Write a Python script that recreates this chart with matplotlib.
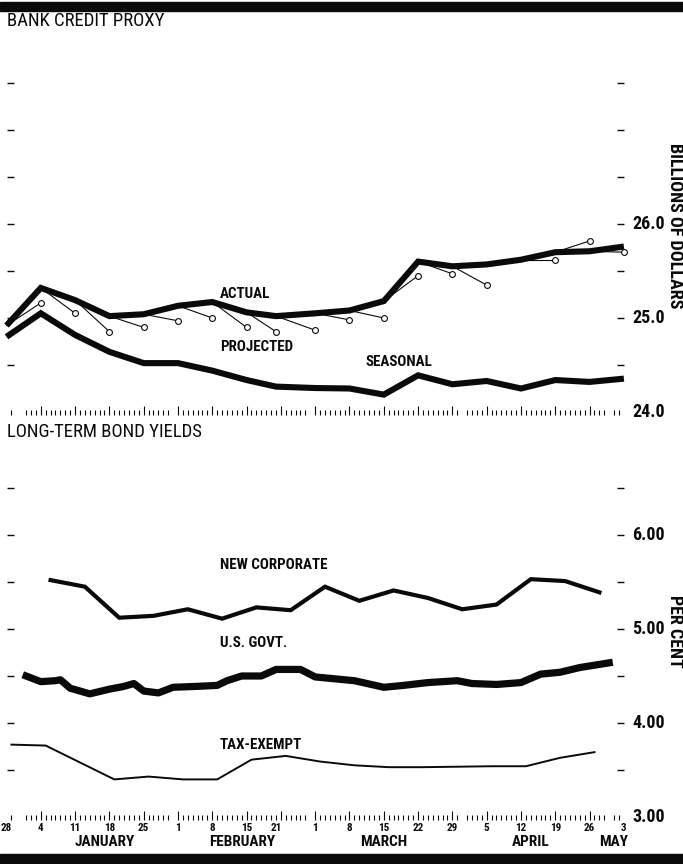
import matplotlib
matplotlib.use("Agg")
import matplotlib.pyplot as plt
from matplotlib import font_manager as fm
from matplotlib.patches import Rectangle
import numpy as np

# ---------------- data ----------------
BASE = np.datetime64("1966-12-28")

week_dates = ["1966-12-28", "1967-01-04", "1967-01-11", "1967-01-18", "1967-01-25",
              "1967-02-01", "1967-02-08", "1967-02-15", "1967-02-21", "1967-03-01",
              "1967-03-08", "1967-03-15", "1967-03-22", "1967-03-29", "1967-04-05",
              "1967-04-12", "1967-04-19", "1967-04-26", "1967-05-03"]
actual = [24.92, 25.32, 25.19, 25.02, 25.04, 25.13, 25.17, 25.06, 25.02, 25.05,
          25.08, 25.18, 25.60, 25.55, 25.57, 25.62, 25.70, 25.71, 25.76]
projected = [None, 25.16, 25.05, 24.855, 24.90, 24.97, 25.00, 24.90, 24.855, 24.87,
             24.98, 25.00, 25.45, 25.47, 25.35, None, 25.62, 25.82, 25.70]
seasonal = [24.80, 25.05, 24.82, 24.64, 24.52, 24.52, 24.44, 24.34, 24.27, 24.255,
            24.25, 24.185, 24.39, 24.295, 24.33, 24.25, 24.34, 24.32, 24.355]

corp_dates = ["1967-01-06", "1967-01-13", "1967-01-20", "1967-01-27", "1967-02-03",
              "1967-02-10", "1967-02-17", "1967-02-24", "1967-03-03", "1967-03-10",
              "1967-03-17", "1967-03-24", "1967-03-31", "1967-04-07", "1967-04-14",
              "1967-04-21", "1967-04-28"]
new_corporate = [5.52, 5.45, 5.12, 5.14, 5.21, 5.11, 5.23, 5.20, 5.45, 5.30,
                 5.41, 5.33, 5.21, 5.26, 5.53, 5.51, 5.39]

govt_dates = ["1967-01-01", "1967-01-04", "1967-01-07", "1967-01-08", "1967-01-10",
              "1967-01-14", "1967-01-18", "1967-01-21", "1967-01-23", "1967-01-25",
              "1967-01-28", "1967-01-31", "1967-02-05", "1967-02-09", "1967-02-11",
              "1967-02-14", "1967-02-18", "1967-02-21", "1967-02-26", "1967-03-01",
              "1967-03-05", "1967-03-09", "1967-03-15", "1967-03-19", "1967-03-24",
              "1967-03-30", "1967-04-02", "1967-04-07", "1967-04-12", "1967-04-16",
              "1967-04-20", "1967-04-24", "1967-04-30"]
us_govt = [4.50, 4.44, 4.45, 4.46, 4.37, 4.31, 4.36, 4.39, 4.42, 4.34,
           4.32, 4.38, 4.39, 4.40, 4.45, 4.50, 4.50, 4.57, 4.57, 4.49,
           4.47, 4.45, 4.38, 4.40, 4.43, 4.45, 4.42, 4.41, 4.43, 4.52,
           4.54, 4.59, 4.64]

tax_dates = ["1966-12-29", "1967-01-05", "1967-01-12", "1967-01-19", "1967-01-26",
             "1967-02-02", "1967-02-09", "1967-02-16", "1967-02-23", "1967-03-02",
             "1967-03-09", "1967-03-16", "1967-03-23", "1967-03-30", "1967-04-06",
             "1967-04-13", "1967-04-20", "1967-04-27"]
tax_exempt = [3.77, 3.76, 3.58, 3.40, 3.43, 3.40, 3.40, 3.61, 3.65, 3.59,
              3.55, 3.53, 3.53, 3.535, 3.54, 3.54, 3.63, 3.69]

label_dates = ["1966-12-28", "1967-01-04", "1967-01-11", "1967-01-18", "1967-01-25",
               "1967-02-01", "1967-02-08", "1967-02-15", "1967-02-21", "1967-03-01",
               "1967-03-08", "1967-03-15", "1967-03-22", "1967-03-29", "1967-04-05",
               "1967-04-12", "1967-04-19", "1967-04-26", "1967-05-03"]
label_texts = ["28", "4", "11", "18", "25", "1", "8", "15", "21", "1",
               "8", "15", "22", "29", "5", "12", "19", "26", "3"]
month_names = ["JANUARY", "FEBRUARY", "MARCH", "APRIL", "MAY"]
month_centers = ["1967-01-17", "1967-02-14", "1967-03-15", "1967-04-14", "1967-05-01"]

top_ticks = [24.5, 25.0, 25.5, 26.0, 26.5, 27.0, 27.5]
top_labels = {24.0: "24.0", 25.0: "25.0", 26.0: "26.0"}
bot_ticks = [3.5, 4.0, 4.5, 5.0, 5.5, 6.0, 6.5]
bot_labels = {3.0: "3.00", 4.0: "4.00", 5.0: "5.00", 6.0: "6.00"}


def days(ds):
    return (np.array(ds, dtype="datetime64[D]") - BASE).astype(float)


# ---------------- fonts ----------------
avail = {f.name for f in fm.fontManager.ttflist}


def pick(*cands):
    for c in cands:
        if c in avail:
            return c
    return "DejaVu Sans"


NARROW = pick("Liberation Sans Narrow", "Roboto Condensed", "Liberation Sans")
REGULAR = pick("Liberation Sans Narrow", "Roboto Condensed", "Liberation Sans")

# ---------------- layout ----------------
W, H = 683, 864
fig = plt.figure(figsize=(W / 100, H / 100), dpi=100)
fig.patch.set_facecolor("white")

PX0, PXD = 6.5, 4.9  # pixel x of day 0, pixels per day


def xday(px):
    return (px - PX0) / PXD


def make_axes(top_px, bot_px, v_at, ppu, vpx):
    ax = fig.add_axes([0, (H - bot_px) / H, 1, (bot_px - top_px) / H])
    ax.set_xlim(xday(0), xday(W))
    ax.set_ylim(v_at + (vpx - bot_px) / ppu, v_at + (vpx - top_px) / ppu)
    ax.axis("off")
    return ax


ax1 = make_axes(40, 420, 24.0, 94.0, 412)
ax2 = make_axes(445, 830, 3.0, 94.0, 817)

INK = "#0a0a0a"

# top/bottom rules
fig.patches.append(Rectangle((0, (H - 11) / H), 1, 9 / H, transform=fig.transFigure,
                             color=INK, zorder=5))
fig.patches.append(Rectangle((0, 0), 1, 10 / H, transform=fig.transFigure,
                             color=INK, zorder=5))

# titles
fig.text(7 / W, 1 - 21 / H, "BANK CREDIT PROXY", family=REGULAR, fontsize=13.5,
         va="center", ha="left", color=INK)
fig.text(7 / W, 1 - 432 / H, "LONG-TERM BOND YIELDS", family=REGULAR, fontsize=13.5,
         va="center", ha="left", color=INK)

# daily tick days: every day except month-end gaps
all_days = np.arange(np.datetime64("1966-12-28"), np.datetime64("1967-05-03"))
nxt = all_days + 1
month_end = (nxt.astype("datetime64[M]") != all_days.astype("datetime64[M]"))
keep = ~month_end
keep &= all_days != np.datetime64("1966-12-30")
keep &= all_days != np.datetime64("1966-12-28")
tick_days = (all_days[keep] - BASE).astype(float)
tick_long = (all_days[keep] - BASE).astype(int) % 7 == 0


def decorate(ax, ticks, labels, base, unit_px):
    tr = ax.get_yaxis_transform()
    ax.hlines(ticks, 7 / W, 14 / W, transform=tr, color=INK, lw=1.0)
    ax.hlines(ticks, 617 / W, 624 / W, transform=tr, color=INK, lw=1.0)
    for v, s in labels.items():
        ax.text(632 / W, v, s, transform=tr, family=NARROW, fontweight="bold",
                fontsize=13, va="center", ha="left", color=INK)
    short = 4.5 / unit_px
    long_ = 9.0 / unit_px
    ax.vlines(tick_days[~tick_long], base, base + short, color=INK, lw=0.8)
    ax.vlines(tick_days[tick_long], base, base + long_, color=INK, lw=0.8)


decorate(ax1, top_ticks, top_labels, 23.97, 94.0)
decorate(ax2, bot_ticks, bot_labels, 2.97, 94.0)

# ---------------- top panel ----------------
wd = days(week_dates)
ax1.plot(wd, seasonal, color=INK, lw=4.4, solid_joinstyle="miter", solid_capstyle="butt")
ax1.plot(wd, actual, color=INK, lw=4.4, solid_joinstyle="miter", solid_capstyle="butt")
for i in range(1, len(wd)):
    if projected[i] is None:
        continue
    ax1.plot([wd[i - 1], wd[i]], [actual[i - 1], projected[i]], color=INK, lw=0.8)
    ax1.plot([wd[i]], [projected[i]], marker="o", ms=4.2, mfc="white", mec=INK,
             mew=0.8, ls="none", zorder=4)

lab = dict(family=NARROW, fontweight="bold", fontsize=10.8, color=INK, va="center", ha="left")
ax1.text(xday(220), 25.26, "ACTUAL", **lab)
ax1.text(xday(220), 24.69, "PROJECTED", **lab)
ax1.text(xday(366), 24.53, "SEASONAL", **lab)

fig.text(675 / W, 1 - 226 / H, "BILLIONS OF DOLLARS", family=NARROW, fontweight="bold",
         fontsize=13, rotation=-90, va="center", ha="center", color=INK)

# ---------------- bottom panel ----------------
ax2.plot(days(corp_dates), new_corporate, color=INK, lw=3.0, solid_joinstyle="miter")
ax2.plot(days(govt_dates), us_govt, color=INK, lw=5.2, solid_joinstyle="round")
ax2.plot(days(tax_dates), tax_exempt, color=INK, lw=1.4)

ax2.text(xday(220), 5.68, "NEW CORPORATE", **lab)
ax2.text(xday(220), 4.85, "U.S. GOVT.", **lab)
ax2.text(xday(220), 3.77, "TAX-EXEMPT", **lab)

fig.text(675 / W, 1 - 631 / H, "PER CENT", family=NARROW, fontweight="bold",
         fontsize=13, rotation=-90, va="center", ha="center", color=INK)

# date labels
for dd, s in zip(days(label_dates), label_texts):
    ax2.text(dd, 3.0 - (828 - 817) / 94, s, family=NARROW, fontweight="bold",
             fontsize=8, ha="center", va="center", color=INK, clip_on=False)
for dd, s in zip(days(month_centers), month_names):
    ax2.text(dd, 3.0 - (842 - 817) / 94, s, family=NARROW, fontweight="bold",
             fontsize=11, ha="center", va="center", color=INK, clip_on=False)

fig.savefig("out.png", dpi=100, facecolor="white")
